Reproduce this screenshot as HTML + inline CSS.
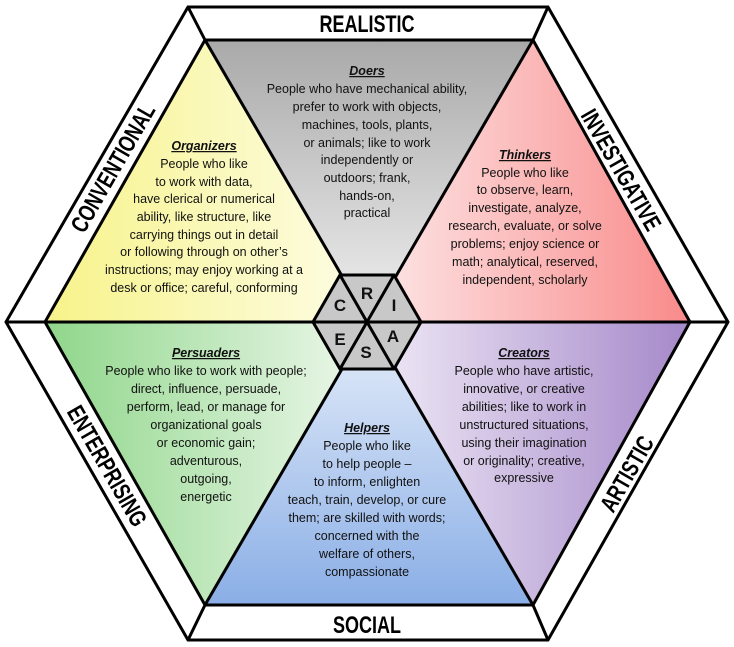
<!DOCTYPE html>
<html><head><meta charset="utf-8"><style>
body{margin:0;background:#fff}
svg{display:block}
text{font-family:"Liberation Sans",sans-serif;font-size:12.5px;fill:#111}
.t{font-weight:bold;font-style:italic;text-decoration:underline}
.h{font-family:"Liberation Sans Narrow","Liberation Sans",sans-serif;font-weight:bold;font-size:24px;fill:#000}
.l{font-size:17px;font-weight:bold}
</style></head><body>
<svg width="734" height="647" viewBox="0 0 734 647">
<defs>
<linearGradient id="gy" x1="0" y1="0" x2="0" y2="1"><stop offset="0" stop-color="#a9a9a9"/><stop offset="1" stop-color="#f0f0f0"/></linearGradient>
<linearGradient id="yl" x1="0" y1="0" x2="1" y2="0"><stop offset="0" stop-color="#f7f38a"/><stop offset="1" stop-color="#fdfde6"/></linearGradient>
<linearGradient id="pk" x1="1" y1="0" x2="0" y2="0"><stop offset="0" stop-color="#f98a8a"/><stop offset="1" stop-color="#fde8e8"/></linearGradient>
<linearGradient id="gr" x1="0" y1="0" x2="1" y2="0"><stop offset="0" stop-color="#8fd68a"/><stop offset="1" stop-color="#eef8ec"/></linearGradient>
<linearGradient id="pu" x1="1" y1="0" x2="0" y2="0"><stop offset="0" stop-color="#a588c9"/><stop offset="1" stop-color="#f1ecf7"/></linearGradient>
<linearGradient id="bl" x1="0" y1="1" x2="0" y2="0"><stop offset="0" stop-color="#8aaee6"/><stop offset="1" stop-color="#e6eefa"/></linearGradient>
</defs>
<polygon points="188,7 548,7 728,322 548,640 188,640 6,322" fill="#fff" stroke="#000" stroke-width="3"/>
<polygon points="205,40 533,40 367,322" fill="url(#gy)"/>
<polygon points="205,40 45,322 367,322" fill="url(#yl)"/>
<polygon points="533,40 690,322 367,322" fill="url(#pk)"/>
<polygon points="45,322 205,605 367,322" fill="url(#gr)"/>
<polygon points="690,322 533,605 367,322" fill="url(#pu)"/>
<polygon points="205,605 533,605 367,322" fill="url(#bl)"/>
<g stroke="#000" stroke-width="3" fill="none">
<polygon points="205,40 533,40 690,322 533,605 205,605 45,322"/>
<line x1="188" y1="7" x2="205" y2="40"/><line x1="548" y1="7" x2="533" y2="40"/>
<line x1="188" y1="640" x2="205" y2="605"/><line x1="548" y1="640" x2="533" y2="605"/>
<line x1="6" y1="322" x2="728" y2="322"/>
<line x1="205" y1="40" x2="533" y2="605"/><line x1="533" y1="40" x2="205" y2="605"/>
</g>
<polygon points="340,275 394,275 421,322 394,369 340,369 313,322" fill="#c8c8c8" stroke="#000" stroke-width="3"/>
<g stroke="#000" stroke-width="3"><line x1="313" y1="322" x2="421" y2="322"/><line x1="340" y1="275" x2="394" y2="369"/><line x1="394" y1="275" x2="340" y2="369"/></g>
<g class="l" text-anchor="middle"><text x="367" y="299" class="l">R</text><text x="340" y="311" class="l">C</text><text x="394" y="311" class="l">I</text><text x="340" y="345" class="l">E</text><text x="393" y="342" class="l">A</text><text x="366" y="358" class="l">S</text></g>
<g text-anchor="middle">
<text class="h" transform="translate(367,32) scale(0.75,1)">REALISTIC</text>
<text class="h" transform="translate(367,633) scale(0.75,1)">SOCIAL</text>
<text class="h" transform="translate(120,172) rotate(-60) scale(0.75,1)">CONVENTIONAL</text>
<text class="h" transform="translate(614,174) rotate(60) scale(0.75,1)">INVESTIGATIVE</text>
<text class="h" transform="translate(100,470) rotate(60) scale(0.75,1)">ENTERPRISING</text>
<text class="h" transform="translate(634,478) rotate(-60) scale(0.75,1)">ARTISTIC</text>
</g>
<g text-anchor="middle">
<text x="367" y="75" class="t">Doers</text>
<text x="367" y="93">People who have mechanical ability,</text>
<text x="367" y="111">prefer to work with objects,</text>
<text x="367" y="129">machines, tools, plants,</text>
<text x="367" y="147">or animals; like to work</text>
<text x="367" y="164">independently or</text>
<text x="367" y="182">outdoors; frank,</text>
<text x="367" y="200">hands-on,</text>
<text x="367" y="217">practical</text>

<text x="204" y="150" class="t">Organizers</text>
<text x="204" y="168">People who like</text>
<text x="204" y="186">to work with data,</text>
<text x="204" y="203">have clerical or numerical</text>
<text x="204" y="221">ability, like structure, like</text>
<text x="204" y="239">carrying things out in detail</text>
<text x="204" y="256">or following through on other’s</text>
<text x="204" y="274">instructions; may enjoy working at a</text>
<text x="204" y="292">desk or office; careful, conforming</text>

<text x="525" y="159" class="t">Thinkers</text>
<text x="525" y="177">People who like</text>
<text x="525" y="194">to observe, learn,</text>
<text x="525" y="212">investigate, analyze,</text>
<text x="525" y="230">research, evaluate, or solve</text>
<text x="525" y="248">problems; enjoy science or</text>
<text x="525" y="266">math; analytical, reserved,</text>
<text x="525" y="284">independent, scholarly</text>

<text x="206" y="357" class="t">Persuaders</text>
<text x="206" y="375">People who like to work with people;</text>
<text x="206" y="393">direct, influence, persuade,</text>
<text x="206" y="411">perform, lead, or manage for</text>
<text x="206" y="429">organizational goals</text>
<text x="206" y="447">or economic gain;</text>
<text x="206" y="465">adventurous,</text>
<text x="206" y="483">outgoing,</text>
<text x="206" y="501">energetic</text>

<text x="524" y="357" class="t">Creators</text>
<text x="524" y="375">People who have artistic,</text>
<text x="524" y="393">innovative, or creative</text>
<text x="524" y="411">abilities; like to work in</text>
<text x="524" y="429">unstructured situations,</text>
<text x="524" y="447">using their imagination</text>
<text x="524" y="465">or originality; creative,</text>
<text x="524" y="482">expressive</text>

<text x="367" y="432" class="t">Helpers</text>
<text x="367" y="450">People who like</text>
<text x="367" y="468">to help people –</text>
<text x="367" y="486">to inform, enlighten</text>
<text x="367" y="504">teach, train, develop, or cure</text>
<text x="367" y="522">them; are skilled with words;</text>
<text x="367" y="540">concerned with the</text>
<text x="367" y="558">welfare of others,</text>
<text x="367" y="576">compassionate</text>
</g>
</svg>
</body></html>
